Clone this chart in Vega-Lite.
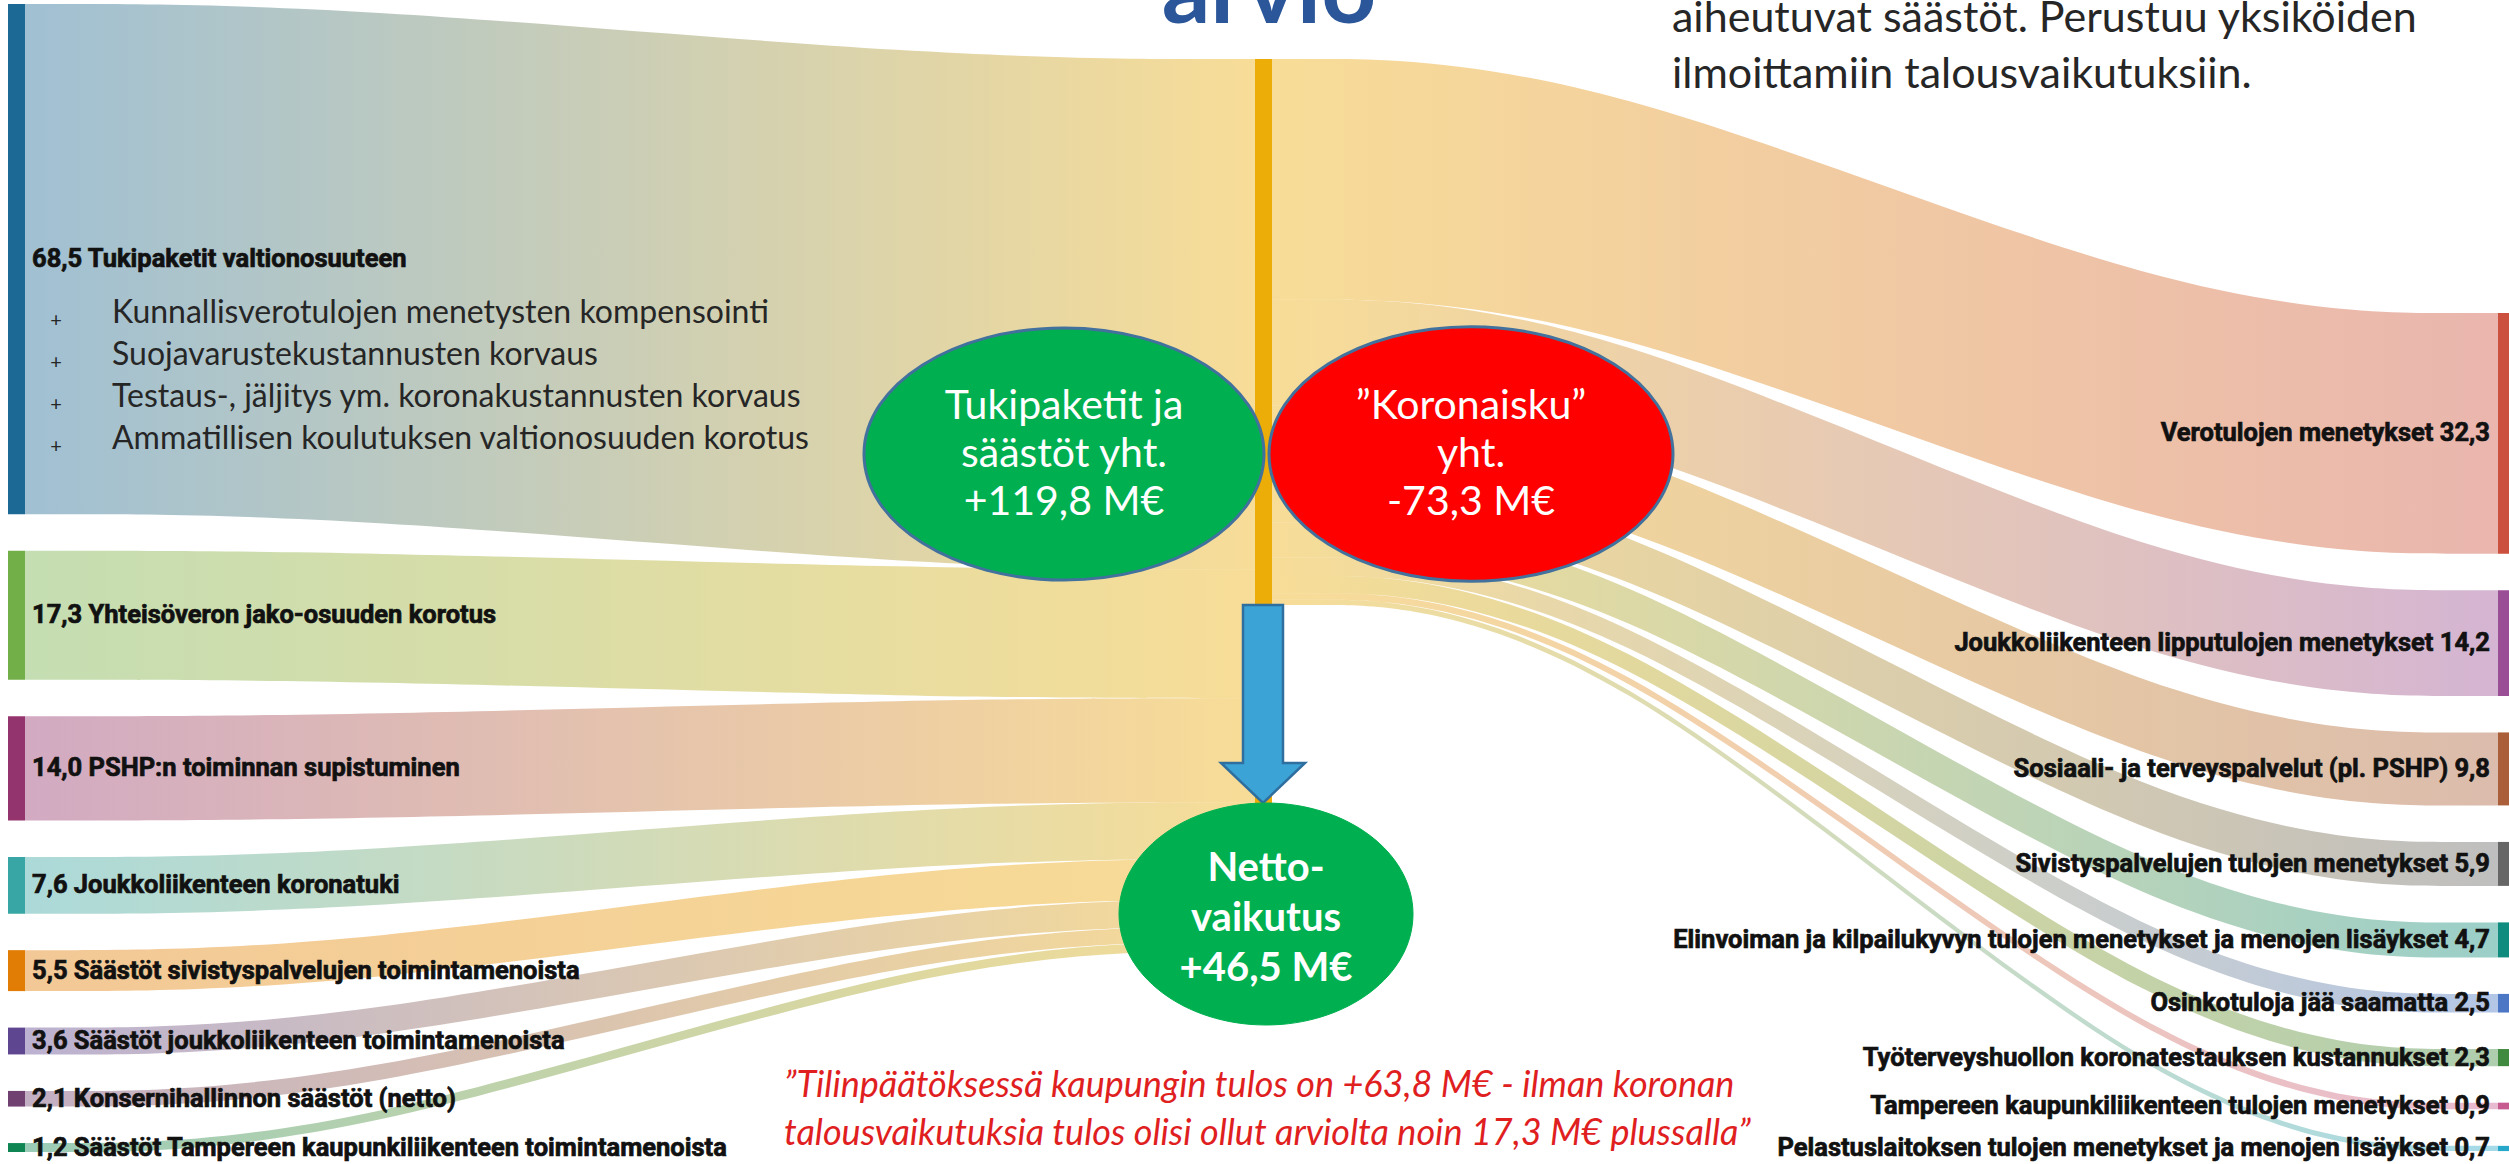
{
  "$schema": "https://vega.github.io/schema/vega-lite/v6.json",
  "width": 2509,
  "height": 1164,
  "autosize": {"type": "none"},
  "padding": 0,
  "background": "white",
  "config": {"view": {"stroke": null}},
  "datasets": {
    "flows": [
      {"side": "in", "name": "Tukipaketit valtionosuuteen", "value": 68.5},
      {"side": "in", "name": "Yhteisöveron jako-osuuden korotus", "value": 17.3},
      {"side": "in", "name": "PSHP:n toiminnan supistuminen", "value": 14.0},
      {"side": "in", "name": "Joukkoliikenteen koronatuki", "value": 7.6},
      {"side": "in", "name": "Säästöt sivistyspalvelujen toimintamenoista", "value": 5.5},
      {"side": "in", "name": "Säästöt joukkoliikenteen toimintamenoista", "value": 3.6},
      {"side": "in", "name": "Konsernihallinnon säästöt (netto)", "value": 2.1},
      {"side": "in", "name": "Säästöt Tampereen kaupunkiliikenteen toimintamenoista", "value": 1.2},
      {"side": "out", "name": "Verotulojen menetykset", "value": 32.3},
      {"side": "out", "name": "Joukkoliikenteen lipputulojen menetykset", "value": 14.2},
      {"side": "out", "name": "Sosiaali- ja terveyspalvelut (pl. PSHP)", "value": 9.8},
      {"side": "out", "name": "Sivistyspalvelujen tulojen menetykset", "value": 5.9},
      {"side": "out", "name": "Elinvoiman ja kilpailukyvyn tulojen menetykset ja menojen lisäykset", "value": 4.7},
      {"side": "out", "name": "Osinkotuloja jää saamatta", "value": 2.5},
      {"side": "out", "name": "Työterveyshuollon koronatestauksen kustannukset", "value": 2.3},
      {"side": "out", "name": "Tampereen kaupunkiliikenteen tulojen menetykset", "value": 0.9},
      {"side": "out", "name": "Pelastuslaitoksen tulojen menetykset ja menojen lisäykset", "value": 0.7}
    ]
  },
  "layer": [
    {
      "data": {"name": "flows"},
      "transform": [
        {"window": [{"op": "sum", "field": "value", "as": "cum"}, {"op": "row_number", "as": "idx"}], "groupby": ["side"], "sort": [{"field": "value", "order": "descending"}], "frame": [null, 0]},
        {"calculate": "datum.cum - datum.value", "as": "start"},
        {"calculate": "(datum.side === 'in' ? 4 : 313) + datum.start * 7.45 + (datum.idx - 1) * 36.5", "as": "nTop"},
        {"calculate": "datum.nTop + datum.value * 7.45", "as": "nBot"},
        {"calculate": "59 + datum.start * 7.45", "as": "cTop"},
        {"calculate": "datum.cTop + datum.value * 7.45", "as": "cBot"},
        {"calculate": "datum.side === 'in' ? 25 : 1272", "as": "xa"},
        {"calculate": "datum.side === 'in' ? 332.5 : 1578.5", "as": "xb"},
        {"calculate": "datum.side === 'in' ? 947.5 : 2191.5", "as": "xc"},
        {"calculate": "datum.side === 'in' ? 1255 : 2498", "as": "xd"},
        {"fold": ["xa", "xb", "xc", "xd"], "as": ["pt", "px"]},
        {"calculate": "((datum.pt === 'xa' || datum.pt === 'xb') === (datum.side === 'in')) ? datum.nTop : datum.cTop", "as": "yTop"},
        {"calculate": "((datum.pt === 'xa' || datum.pt === 'xb') === (datum.side === 'in')) ? datum.nBot : datum.cBot", "as": "yBot"}
      ],
      "encoding": {
        "x": {"field": "px", "type": "quantitative", "scale": {"domain": [0, 2509], "nice": false, "zero": false}, "axis": null},
        "y": {"field": "yTop", "type": "quantitative", "scale": {"domain": [0, 1164], "nice": false, "zero": false, "reverse": true}, "axis": null},
        "y2": {"field": "yBot"}
      },
      "layer": [
        {"transform": [{"filter": "datum.name === 'Tukipaketit valtionosuuteen'"}], "mark": {"type": "area", "interpolate": "basis", "fillOpacity": 0.42, "fill": {"gradient": "linear", "x1": 0, "y1": 0, "x2": 1, "y2": 0, "stops": [{"offset": 0, "color": "#1D6996"}, {"offset": 1, "color": "#EDAD08"}]}}},
        {"transform": [{"filter": "datum.name === 'Yhteisöveron jako-osuuden korotus'"}], "mark": {"type": "area", "interpolate": "basis", "fillOpacity": 0.42, "fill": {"gradient": "linear", "x1": 0, "y1": 0, "x2": 1, "y2": 0, "stops": [{"offset": 0, "color": "#73AF48"}, {"offset": 1, "color": "#EDAD08"}]}}},
        {"transform": [{"filter": "datum.name === 'PSHP:n toiminnan supistuminen'"}], "mark": {"type": "area", "interpolate": "basis", "fillOpacity": 0.42, "fill": {"gradient": "linear", "x1": 0, "y1": 0, "x2": 1, "y2": 0, "stops": [{"offset": 0, "color": "#94346E"}, {"offset": 1, "color": "#EDAD08"}]}}},
        {"transform": [{"filter": "datum.name === 'Joukkoliikenteen koronatuki'"}], "mark": {"type": "area", "interpolate": "basis", "fillOpacity": 0.42, "fill": {"gradient": "linear", "x1": 0, "y1": 0, "x2": 1, "y2": 0, "stops": [{"offset": 0, "color": "#38A6A5"}, {"offset": 1, "color": "#EDAD08"}]}}},
        {"transform": [{"filter": "datum.name === 'Säästöt sivistyspalvelujen toimintamenoista'"}], "mark": {"type": "area", "interpolate": "basis", "fillOpacity": 0.42, "fill": {"gradient": "linear", "x1": 0, "y1": 0, "x2": 1, "y2": 0, "stops": [{"offset": 0, "color": "#E17C05"}, {"offset": 1, "color": "#EDAD08"}]}}},
        {"transform": [{"filter": "datum.name === 'Säästöt joukkoliikenteen toimintamenoista'"}], "mark": {"type": "area", "interpolate": "basis", "fillOpacity": 0.42, "fill": {"gradient": "linear", "x1": 0, "y1": 0, "x2": 1, "y2": 0, "stops": [{"offset": 0, "color": "#5F4690"}, {"offset": 1, "color": "#EDAD08"}]}}},
        {"transform": [{"filter": "datum.name === 'Konsernihallinnon säästöt (netto)'"}], "mark": {"type": "area", "interpolate": "basis", "fillOpacity": 0.42, "fill": {"gradient": "linear", "x1": 0, "y1": 0, "x2": 1, "y2": 0, "stops": [{"offset": 0, "color": "#6F4070"}, {"offset": 1, "color": "#EDAD08"}]}}},
        {"transform": [{"filter": "datum.name === 'Säästöt Tampereen kaupunkiliikenteen toimintamenoista'"}], "mark": {"type": "area", "interpolate": "basis", "fillOpacity": 0.42, "fill": {"gradient": "linear", "x1": 0, "y1": 0, "x2": 1, "y2": 0, "stops": [{"offset": 0, "color": "#0F8554"}, {"offset": 1, "color": "#EDAD08"}]}}},
        {"transform": [{"filter": "datum.name === 'Verotulojen menetykset'"}], "mark": {"type": "area", "interpolate": "basis", "fillOpacity": 0.42, "fill": {"gradient": "linear", "x1": 0, "y1": 0, "x2": 1, "y2": 0, "stops": [{"offset": 0, "color": "#EDAD08"}, {"offset": 1, "color": "#CC503E"}]}}},
        {"transform": [{"filter": "datum.name === 'Joukkoliikenteen lipputulojen menetykset'"}], "mark": {"type": "area", "interpolate": "basis", "fillOpacity": 0.42, "fill": {"gradient": "linear", "x1": 0, "y1": 0, "x2": 1, "y2": 0, "stops": [{"offset": 0, "color": "#EDAD08"}, {"offset": 1, "color": "#994E95"}]}}},
        {"transform": [{"filter": "datum.name === 'Sosiaali- ja terveyspalvelut (pl. PSHP)'"}], "mark": {"type": "area", "interpolate": "basis", "fillOpacity": 0.42, "fill": {"gradient": "linear", "x1": 0, "y1": 0, "x2": 1, "y2": 0, "stops": [{"offset": 0, "color": "#EDAD08"}, {"offset": 1, "color": "#AA5F3A"}]}}},
        {"transform": [{"filter": "datum.name === 'Sivistyspalvelujen tulojen menetykset'"}], "mark": {"type": "area", "interpolate": "basis", "fillOpacity": 0.42, "fill": {"gradient": "linear", "x1": 0, "y1": 0, "x2": 1, "y2": 0, "stops": [{"offset": 0, "color": "#EDAD08"}, {"offset": 1, "color": "#666666"}]}}},
        {"transform": [{"filter": "datum.name === 'Elinvoiman ja kilpailukyvyn tulojen menetykset ja menojen lisäykset'"}], "mark": {"type": "area", "interpolate": "basis", "fillOpacity": 0.42, "fill": {"gradient": "linear", "x1": 0, "y1": 0, "x2": 1, "y2": 0, "stops": [{"offset": 0, "color": "#EDAD08"}, {"offset": 1, "color": "#0F8C7D"}]}}},
        {"transform": [{"filter": "datum.name === 'Osinkotuloja jää saamatta'"}], "mark": {"type": "area", "interpolate": "basis", "fillOpacity": 0.42, "fill": {"gradient": "linear", "x1": 0, "y1": 0, "x2": 1, "y2": 0, "stops": [{"offset": 0, "color": "#EDAD08"}, {"offset": 1, "color": "#4B77C4"}]}}},
        {"transform": [{"filter": "datum.name === 'Työterveyshuollon koronatestauksen kustannukset'"}], "mark": {"type": "area", "interpolate": "basis", "fillOpacity": 0.42, "fill": {"gradient": "linear", "x1": 0, "y1": 0, "x2": 1, "y2": 0, "stops": [{"offset": 0, "color": "#EDAD08"}, {"offset": 1, "color": "#3F8A3F"}]}}},
        {"transform": [{"filter": "datum.name === 'Tampereen kaupunkiliikenteen tulojen menetykset'"}], "mark": {"type": "area", "interpolate": "basis", "fillOpacity": 0.42, "fill": {"gradient": "linear", "x1": 0, "y1": 0, "x2": 1, "y2": 0, "stops": [{"offset": 0, "color": "#EDAD08"}, {"offset": 1, "color": "#C75B8F"}]}}},
        {"transform": [{"filter": "datum.name === 'Pelastuslaitoksen tulojen menetykset ja menojen lisäykset'"}], "mark": {"type": "area", "interpolate": "basis", "fillOpacity": 0.42, "fill": {"gradient": "linear", "x1": 0, "y1": 0, "x2": 1, "y2": 0, "stops": [{"offset": 0, "color": "#EDAD08"}, {"offset": 1, "color": "#27A7C9"}]}}}
      ]
    },
    {
      "data": {"name": "flows"},
      "transform": [
        {"window": [{"op": "sum", "field": "value", "as": "cum"}, {"op": "row_number", "as": "idx"}], "groupby": ["side"], "sort": [{"field": "value", "order": "descending"}], "frame": [null, 0]},
        {"calculate": "datum.cum - datum.value", "as": "start"},
        {"calculate": "(datum.side === 'in' ? 4 : 313) + datum.start * 7.45 + (datum.idx - 1) * 36.5", "as": "nTop"},
        {"calculate": "datum.nTop + datum.value * 7.45", "as": "nBot"},
        {"calculate": "(datum.nTop + datum.nBot) / 2", "as": "nMid"},
        {"calculate": "59 + datum.start * 7.45", "as": "cTop"},
        {"calculate": "datum.cTop + datum.value * 7.45", "as": "cBot"},
        {"calculate": "datum.side === 'in' ? 8 : 2498", "as": "rx0"},
        {"calculate": "datum.side === 'in' ? 25 : 2509", "as": "rx1"},
        {"calculate": "datum.side === 'in' ? replace(format(datum.value, '.1f'), '.', ',') + ' ' + datum.name : datum.name + ' ' + replace(format(datum.value, '.1f'), '.', ',')", "as": "label"}
      ],
      "layer": [
        {
          "mark": {"type": "rect"},
          "encoding": {
            "x": {"field": "rx0", "type": "quantitative"},
            "x2": {"field": "rx1"},
            "y": {"field": "nTop", "type": "quantitative"},
            "y2": {"field": "nBot"},
            "color": {
              "field": "name",
              "type": "nominal",
              "legend": null,
              "scale": {
                "domain": ["Tukipaketit valtionosuuteen", "Yhteisöveron jako-osuuden korotus", "PSHP:n toiminnan supistuminen", "Joukkoliikenteen koronatuki", "Säästöt sivistyspalvelujen toimintamenoista", "Säästöt joukkoliikenteen toimintamenoista", "Konsernihallinnon säästöt (netto)", "Säästöt Tampereen kaupunkiliikenteen toimintamenoista", "Verotulojen menetykset", "Joukkoliikenteen lipputulojen menetykset", "Sosiaali- ja terveyspalvelut (pl. PSHP)", "Sivistyspalvelujen tulojen menetykset", "Elinvoiman ja kilpailukyvyn tulojen menetykset ja menojen lisäykset", "Osinkotuloja jää saamatta", "Työterveyshuollon koronatestauksen kustannukset", "Tampereen kaupunkiliikenteen tulojen menetykset", "Pelastuslaitoksen tulojen menetykset ja menojen lisäykset"],
                "range": ["#1D6996", "#73AF48", "#94346E", "#38A6A5", "#E17C05", "#5F4690", "#6F4070", "#0F8554", "#CC503E", "#994E95", "#AA5F3A", "#666666", "#0F8C7D", "#4B77C4", "#3F8A3F", "#C75B8F", "#27A7C9"]
              }
            }
          }
        },
        {
          "transform": [{"filter": "datum.side === 'in'"}, {"aggregate": [{"op": "min", "field": "cTop", "as": "t"}, {"op": "max", "field": "cBot", "as": "b"}]}],
          "mark": {"type": "rect", "color": "#EDAD08"},
          "encoding": {
            "x": {"datum": 1255, "type": "quantitative"},
            "x2": {"datum": 1272},
            "y": {"field": "t", "type": "quantitative"},
            "y2": {"field": "b"}
          }
        },
        {
          "transform": [{"filter": "datum.side === 'in'"}],
          "mark": {"type": "text", "align": "left", "baseline": "middle", "font": "Roboto, sans-serif", "fontWeight": "bold", "fontSize": 25.5, "color": "#111111", "stroke": "#111111", "strokeWidth": 0.7},
          "encoding": {
            "x": {"datum": 32, "type": "quantitative"},
            "y": {"field": "nMid", "type": "quantitative"},
            "text": {"field": "label"}
          }
        },
        {
          "transform": [{"filter": "datum.side === 'out'"}],
          "mark": {"type": "text", "align": "right", "baseline": "middle", "font": "Roboto, sans-serif", "fontWeight": "bold", "fontSize": 25.5, "color": "#111111", "stroke": "#111111", "strokeWidth": 0.7},
          "encoding": {
            "x": {"datum": 2490, "type": "quantitative"},
            "y": {"field": "nMid", "type": "quantitative"},
            "text": {"field": "label"}
          }
        }
      ]
    },
    {
      "data": {"values": [{"t": "arvio"}]},
      "mark": {"type": "text", "align": "center", "baseline": "alphabetic", "font": "Lato", "fontWeight": "bold", "fontSize": 96, "color": "#2B579A"},
      "encoding": {"x": {"datum": 1269, "type": "quantitative"}, "y": {"datum": 23, "type": "quantitative"}, "text": {"field": "t"}}
    },
    {
      "data": {"values": [{}]},
      "mark": {"type": "text", "align": "left", "baseline": "alphabetic", "font": "Lato", "fontSize": 43, "lineHeight": 56, "color": "#262626"},
      "encoding": {"x": {"datum": 1672, "type": "quantitative"}, "y": {"datum": 32, "type": "quantitative"}, "text": {"value": ["aiheutuvat säästöt. Perustuu yksiköiden", "ilmoittamiin talousvaikutuksiin."]}}
    },
    {
      "data": {"values": [{}]},
      "mark": {"type": "text", "align": "left", "baseline": "alphabetic", "font": "Lato", "fontSize": 32, "lineHeight": 42, "color": "#262626"},
      "encoding": {"x": {"datum": 112, "type": "quantitative"}, "y": {"datum": 323, "type": "quantitative"}, "text": {"value": ["Kunnallisverotulojen menetysten kompensointi", "Suojavarustekustannusten korvaus", "Testaus-, jäljitys ym. koronakustannusten korvaus", "Ammatillisen koulutuksen valtionosuuden korotus"]}}
    },
    {
      "data": {"values": [{}]},
      "mark": {"type": "text", "align": "center", "baseline": "alphabetic", "font": "Lato", "fontSize": 20, "lineHeight": 42, "color": "#262626"},
      "encoding": {"x": {"datum": 56, "type": "quantitative"}, "y": {"datum": 327, "type": "quantitative"}, "text": {"value": ["+", "+", "+", "+"]}}
    },
    {
      "data": {"values": [{}]},
      "mark": {"type": "point", "shape": "M -1 0 A 1 0.63 0 1 0 1 0 A 1 0.63 0 1 0 -1 0 Z", "size": 160000, "filled": true, "fill": "#00B050", "stroke": "#41719C", "strokeWidth": 3, "opacity": 1, "fillOpacity": 1, "strokeOpacity": 1},
      "encoding": {"x": {"datum": 1064, "type": "quantitative"}, "y": {"datum": 454, "type": "quantitative"}}
    },
    {
      "data": {"values": [{}]},
      "mark": {"type": "point", "shape": "M -1 0 A 1 0.63 0 1 0 1 0 A 1 0.63 0 1 0 -1 0 Z", "size": 163216, "filled": true, "fill": "#FF0000", "stroke": "#41719C", "strokeWidth": 3, "opacity": 1, "fillOpacity": 1, "strokeOpacity": 1},
      "encoding": {"x": {"datum": 1471, "type": "quantitative"}, "y": {"datum": 454, "type": "quantitative"}}
    },
    {
      "data": {"values": [{}]},
      "mark": {"type": "text", "align": "center", "baseline": "alphabetic", "font": "Lato", "fontSize": 41, "lineHeight": 48, "color": "#FFFFFF"},
      "encoding": {"x": {"datum": 1064, "type": "quantitative"}, "y": {"datum": 419, "type": "quantitative"}, "text": {"value": ["Tukipaketit ja", "säästöt yht.", "+119,8 M€"]}}
    },
    {
      "data": {"values": [{}]},
      "mark": {"type": "text", "align": "center", "baseline": "alphabetic", "font": "Lato", "fontSize": 41, "lineHeight": 48, "color": "#FFFFFF"},
      "encoding": {"x": {"datum": 1471, "type": "quantitative"}, "y": {"datum": 419, "type": "quantitative"}, "text": {"value": ["”Koronaisku”", "yht.", "-73,3 M€"]}}
    },
    {
      "data": {"values": [{}]},
      "mark": {"type": "point", "shape": "M -0.202 -1 L 0.202 -1 L 0.202 0.596 L 0.424 0.596 L 0 1 L -0.424 0.596 L -0.202 0.596 Z", "size": 39204, "filled": true, "fill": "#3BA3D6", "stroke": "#2F6F9F", "strokeWidth": 2.5, "opacity": 1, "fillOpacity": 1, "strokeOpacity": 1},
      "encoding": {"x": {"datum": 1263, "type": "quantitative"}, "y": {"datum": 704, "type": "quantitative"}}
    },
    {
      "data": {"values": [{}]},
      "mark": {"type": "point", "shape": "M -1 0 A 1 0.755 0 1 0 1 0 A 1 0.755 0 1 0 -1 0 Z", "size": 86436, "filled": true, "fill": "#00B050", "stroke": "#00B050", "strokeWidth": 1, "opacity": 1, "fillOpacity": 1, "strokeOpacity": 1},
      "encoding": {"x": {"datum": 1266, "type": "quantitative"}, "y": {"datum": 914, "type": "quantitative"}}
    },
    {
      "data": {"values": [{}]},
      "mark": {"type": "text", "align": "center", "baseline": "alphabetic", "font": "Lato", "fontWeight": "bold", "fontSize": 40, "lineHeight": 50, "color": "#FFFFFF"},
      "encoding": {"x": {"datum": 1266, "type": "quantitative"}, "y": {"datum": 881, "type": "quantitative"}, "text": {"value": ["Netto-", "vaikutus", "+46,5 M€"]}}
    },
    {
      "data": {"values": [{}]},
      "mark": {"type": "text", "align": "left", "baseline": "alphabetic", "font": "Lato", "fontStyle": "italic", "fontSize": 36, "lineHeight": 48, "color": "#E0201E"},
      "encoding": {"x": {"datum": 784, "type": "quantitative"}, "y": {"datum": 1097, "type": "quantitative"}, "text": {"value": ["”Tilinpäätöksessä kaupungin tulos on +63,8 M€ - ilman koronan", "talousvaikutuksia tulos olisi ollut arviolta noin 17,3 M€ plussalla”"]}}
    }
  ]
}
